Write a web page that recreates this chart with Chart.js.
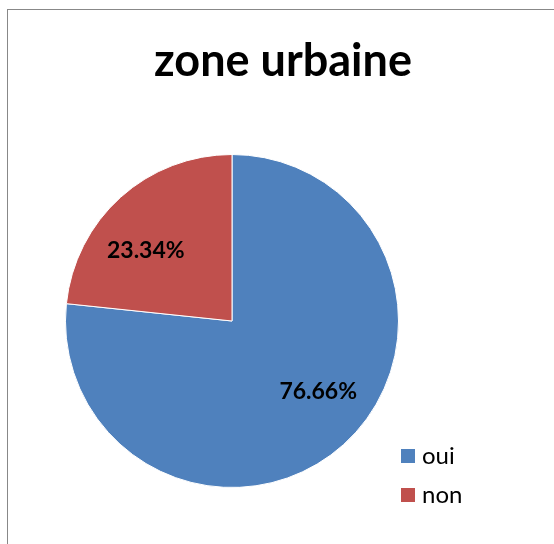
<!DOCTYPE html>
<html>
<head>
<meta charset="utf-8">
<script src="https://cdn.jsdelivr.net/npm/chart.js@4"></script>
<style>
  html, body { margin: 0; padding: 0; background: #fff; }
  #wrap { position: relative; width: 554px; height: 544px; overflow: hidden; }
  #frame { position: absolute; left: 7px; top: 9px; width: 600px; height: 600px; border: 1.5px solid #888; }
  canvas { position: absolute; left: 0; top: 0; }
</style>
</head>
<body>
<div id="wrap">
  <div id="frame"></div>
  <canvas id="myChart" width="554" height="544"></canvas>
</div>
<script>
'use strict';

// chart data
let categories = [ 'oui', 'non' ];
let values = [ 76.66, 23.34 ];
let colors = [ '#4F81BD', '#C0504D' ];
let chartTitle = 'zone urbaine';

let fontFamily = 'Lato, "Open Sans", sans-serif';

// title centred on the whole frame, not on the pie
let frameTitle = {
  id: 'frameTitle',
  afterDraw( chart ) {
    let ctx = chart.ctx;
    ctx.save();
    ctx.font = 'bold 45px ' + fontFamily;
    ctx.fillStyle = '#000';
    ctx.textAlign = 'center';
    ctx.textBaseline = 'middle';
    ctx.fillText( chartTitle, 283, 61 );
    ctx.restore();
  }
};

// percentage labels inside slices
let sliceLabels = {
  id: 'sliceLabels',
  afterDatasetsDraw( chart ) {
    let ctx = chart.ctx;
    let meta = chart.getDatasetMeta( 0 );
    let total = values.reduce( ( a, b ) => a + b, 0 );
    ctx.save();
    ctx.font = 'bold 23px ' + fontFamily;
    ctx.fillStyle = '#000';
    ctx.textAlign = 'center';
    ctx.textBaseline = 'middle';
    meta.data.forEach( function( arc, i ) {
      let p = arc.getProps( [ 'x', 'y', 'startAngle', 'endAngle', 'outerRadius' ] );
      let mid = ( p.startAngle + p.endAngle ) / 2 - 0.15;
      let r = p.outerRadius * 0.67;
      let text = ( values[i] / total * 100 ).toFixed( 2 ) + '%';
      ctx.fillText( text, p.x + Math.cos( mid ) * r, p.y + Math.sin( mid ) * r );
    } );
    ctx.restore();
  }
};

// legend drawn at bottom right
let sideLegend = {
  id: 'sideLegend',
  afterDraw( chart ) {
    let ctx = chart.ctx;
    ctx.save();
    ctx.font = '24px ' + fontFamily;
    ctx.textBaseline = 'middle';
    for( let i = 0; i < categories.length; i++ ) {
      let y = 456 + i * 39;
      ctx.fillStyle = colors[i];
      ctx.fillRect( 401, y - 7, 14, 14 );
      ctx.fillStyle = '#000';
      ctx.fillText( categories[i], 422, y );
    }
    ctx.restore();
  }
};

let ctx = document.getElementById( 'myChart' ).getContext( '2d' );

let myChart = new Chart( ctx, {
  type: 'pie',
  data: {
    labels: categories,
    datasets: [{
      data: values,
      backgroundColor: colors,
      borderColor: '#fff',
      borderWidth: 1
    }]
  },
  options: {
    responsive: false,
    animation: false,
    layout: {
      padding: { left: 65, right: 155, top: 154, bottom: 56 }
    },
    plugins: {
      legend: { display: false },
      tooltip: { enabled: false },
      title: { display: false }
    }
  },
  plugins: [ sliceLabels, sideLegend, frameTitle ]
} );
</script>
</body>
</html>
